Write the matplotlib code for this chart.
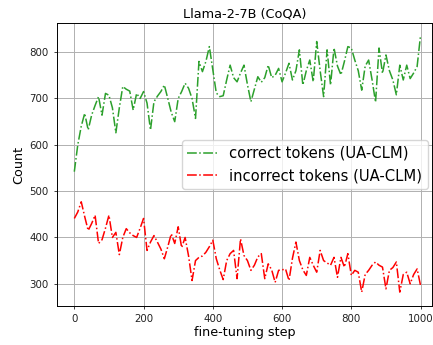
import numpy as np
import matplotlib
matplotlib.use("Agg")
import matplotlib.pyplot as plt

# fine-tuning steps (every 10 steps)
steps = list(range(0, 1001, 10))

correct_counts = [
    542, 600, 640, 668, 632, 664, 685, 704, 664, 711,
    707, 680, 626, 680, 726, 720, 716, 675, 711, 700,
    715, 690, 632, 693, 705, 715, 729, 700, 670, 650,
    700, 715, 733, 722, 700, 657, 780, 758, 780, 812,
    762, 712, 704, 706, 740, 772, 745, 736, 755, 772,
    730, 693, 720, 747, 735, 745, 772, 745, 750, 765,
    736, 755, 776, 740, 760, 805, 729, 760, 783, 736,
    823, 760, 704, 805, 729, 809, 770, 751, 780, 812,
    809, 783, 760, 718, 770, 783, 740, 692, 809, 754,
    794, 760, 740, 708, 772, 740, 772, 743, 755, 769,
    837,
]

incorrect_counts = [
    441, 455, 477, 445, 415, 430, 448, 387, 395, 420,
    448, 400, 411, 363, 400, 419, 410, 404, 400, 420,
    441, 372, 390, 404, 390, 375, 354, 380, 408, 387,
    423, 378, 400, 360, 307, 350, 357, 360, 368, 380,
    394, 354, 330, 309, 350, 365, 372, 311, 397, 361,
    350, 329, 340, 358, 365, 311, 343, 330, 303, 329,
    330, 332, 307, 355, 390, 350, 330, 318, 357, 340,
    325, 372, 350, 345, 340, 357, 314, 357, 336, 365,
    318, 329, 325, 282, 320, 329, 340, 347, 340, 336,
    289, 329, 335, 347, 282, 320, 325, 300, 320, 332,
    296,
]

series_labels = ["correct tokens (UA-CLM)", "incorrect tokens (UA-CLM)"]
x_ticks = [0, 200, 400, 600, 800, 1000]
y_ticks = [300, 400, 500, 600, 700, 800]

fig = plt.figure(figsize=(4.33, 3.45), dpi=100)
ax = fig.add_axes([57 / 433, 39 / 345, 375 / 433, 283 / 345])

ax.plot(steps, correct_counts, linestyle="-.", color="tab:green", lw=1.1,
        label=series_labels[0])
ax.plot(steps, incorrect_counts, linestyle="-.", color="red", lw=1.1,
        label=series_labels[1])

ax.set_xlim(-50, 1033)
ax.set_ylim(252, 863)
ax.set_xticks(x_ticks)
ax.set_yticks(y_ticks)
ax.tick_params(labelsize=7.4, length=2.5, width=0.6, colors="#222222")
ax.grid(True, color="#b0b0b0", lw=0.7)
for s in ax.spines.values():
    s.set_linewidth(0.7)

ax.set_title("Llama-2-7B (CoQA)", fontsize=9.3, pad=4)
ax.set_xlabel("fine-tuning step", fontsize=9.2, labelpad=1)
ax.set_ylabel("Count", fontsize=9.2, labelpad=3)

ax.legend(loc="center right", fontsize=10.6, handlelength=2.0,
          borderaxespad=0.3, framealpha=0.8)

fig.savefig("out.png", dpi=100)
